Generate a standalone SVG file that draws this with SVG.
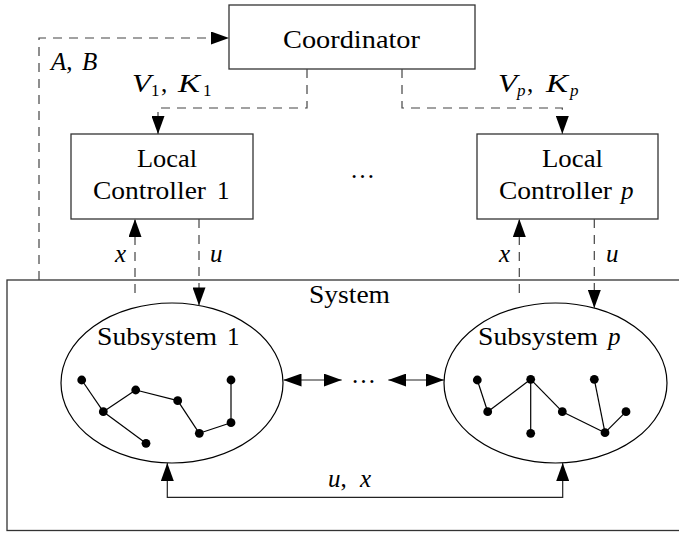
<svg xmlns="http://www.w3.org/2000/svg" width="679" height="534" viewBox="0 0 679 534">
<style>
text{font-family:"Liberation Serif","DejaVu Serif","Times New Roman",serif;font-size:25px;fill:#000}
.it{font-style:italic}
.sub{font-size:17px}
.box{fill:#fff;stroke:#333;stroke-width:1.3}
.ell{fill:#fff;stroke:#000;stroke-width:1.2}
.dash{fill:none;stroke:#444;stroke-width:1.2;stroke-dasharray:9 7}
.solid{fill:none;stroke:#222;stroke-width:1.2}
.edge{stroke:#000;stroke-width:1.2}
.dot{fill:#000}
</style>
<defs>
<marker id="ah" viewBox="0 0 18 13" refX="18" refY="6.5" markerWidth="18" markerHeight="13" markerUnits="userSpaceOnUse" orient="auto-start-reverse">
<path d="M0,0 L18,6.5 L0,13 Z" fill="#000"/>
</marker>
</defs>

<g id="system">
<rect x="7" y="280" width="690" height="250.5" fill="none" stroke="#333" stroke-width="1.3"/>
<text x="309" y="303" textLength="81" lengthAdjust="spacingAndGlyphs">System</text>
</g>

<g id="coordinator">
<rect class="box" x="229" y="5" width="246" height="64"/>
<text x="283" y="48" textLength="137" lengthAdjust="spacingAndGlyphs">Coordinator</text>
</g>

<g id="controller1">
<rect class="box" x="71" y="134" width="182" height="85"/>
<text x="137" y="167" textLength="60" lengthAdjust="spacingAndGlyphs">Local</text>
<text x="93" y="199" textLength="113" lengthAdjust="spacingAndGlyphs">Controller</text>
<text x="217" y="199">1</text>
</g>

<g id="controllerp">
<rect class="box" x="477" y="134" width="181" height="85"/>
<text x="542" y="167" textLength="61" lengthAdjust="spacingAndGlyphs">Local</text>
<text x="499" y="199" textLength="113" lengthAdjust="spacingAndGlyphs">Controller</text>
<text x="621" y="199" class="it">p</text>
</g>

<g id="controller-dots">
<text x="350" y="178" textLength="27" lengthAdjust="spacing">…</text>
</g>

<g id="subsystem1">
<ellipse class="ell" cx="172" cy="383" rx="111" ry="80"/>
<text x="97" y="345" textLength="120" lengthAdjust="spacingAndGlyphs">Subsystem</text>
<text x="227" y="345">1</text>
<g class="edge">
<line x1="81.7" y1="380" x2="103.3" y2="411.7"/>
<line x1="103.3" y1="411.7" x2="135.7" y2="390"/>
<line x1="135.7" y1="390" x2="177.7" y2="400.7"/>
<line x1="177.7" y1="400.7" x2="199.3" y2="433.3"/>
<line x1="199.3" y1="433.3" x2="231" y2="422.7"/>
<line x1="231" y1="422.7" x2="231" y2="380"/>
<line x1="103.3" y1="411.7" x2="146" y2="443.3"/>
</g>
<g class="dot">
<circle cx="81.7" cy="380" r="4.4"/>
<circle cx="103.3" cy="411.7" r="4.4"/>
<circle cx="135.7" cy="390" r="4.4"/>
<circle cx="177.7" cy="400.7" r="4.4"/>
<circle cx="199.3" cy="433.3" r="4.4"/>
<circle cx="231" cy="422.7" r="4.4"/>
<circle cx="231" cy="380" r="4.4"/>
<circle cx="146" cy="443.3" r="4.4"/>
</g>
</g>

<g id="subsystemp">
<ellipse class="ell" cx="555.5" cy="383" rx="111.5" ry="80"/>
<text x="478" y="345" textLength="120" lengthAdjust="spacingAndGlyphs">Subsystem</text>
<text x="608" y="345" class="it">p</text>
<g class="edge">
<line x1="477.3" y1="380" x2="487.7" y2="411.7"/>
<line x1="487.7" y1="411.7" x2="530.7" y2="379.3"/>
<line x1="530.7" y1="379.3" x2="530.7" y2="433.3"/>
<line x1="530.7" y1="379.3" x2="562.3" y2="411.7"/>
<line x1="562.3" y1="411.7" x2="605" y2="432.7"/>
<line x1="605" y1="432.7" x2="594.3" y2="379.3"/>
<line x1="605" y1="432.7" x2="626" y2="411.7"/>
</g>
<g class="dot">
<circle cx="477.3" cy="380" r="4.4"/>
<circle cx="487.7" cy="411.7" r="4.4"/>
<circle cx="530.7" cy="379.3" r="4.4"/>
<circle cx="530.7" cy="433.3" r="4.4"/>
<circle cx="562.3" cy="411.7" r="4.4"/>
<circle cx="605" cy="432.7" r="4.4"/>
<circle cx="594.3" cy="379.3" r="4.4"/>
<circle cx="626" cy="411.7" r="4.4"/>
</g>
</g>

<g id="connectors">
<path class="dash" d="M39,280 V38 H229" marker-end="url(#ah)"/>
<path class="dash" d="M307,69 V108 H158 V134" marker-end="url(#ah)"/>
<path class="dash" d="M402,69 V108 H562.3 V134" marker-end="url(#ah)"/>
<path class="dash" d="M135,293 V219" marker-end="url(#ah)"/>
<path class="dash" d="M199,219 V305.4" marker-end="url(#ah)"/>
<path class="dash" d="M519.3,293 V219" marker-end="url(#ah)"/>
<path class="dash" d="M594.3,219 V308" marker-end="url(#ah)"/>
<path class="solid" d="M283.5,380 H341.7" marker-start="url(#ah)" marker-end="url(#ah)"/>
<path class="solid" d="M388.3,380 H444" marker-start="url(#ah)" marker-end="url(#ah)"/>
<path class="solid" d="M167.3,463 V497.3 H562.7 V463" marker-start="url(#ah)" marker-end="url(#ah)"/>
<text x="351" y="383" textLength="26" lengthAdjust="spacing">…</text>
</g>

<g id="labels">
<text x="51" y="70"><tspan class="it">A</tspan><tspan>,</tspan><tspan x="82" class="it">B</tspan></text>
<text x="132" y="92"><tspan class="it" textLength="19" lengthAdjust="spacingAndGlyphs">V</tspan><tspan class="sub" x="151" y="96">1</tspan><tspan x="161" y="92">,</tspan><tspan x="178" class="it" textLength="22" lengthAdjust="spacingAndGlyphs">K</tspan><tspan class="sub" x="203" y="96">1</tspan></text>
<text x="498" y="92"><tspan class="it" textLength="19" lengthAdjust="spacingAndGlyphs">V</tspan><tspan class="sub it" x="517" y="96">p</tspan><tspan x="527" y="92">,</tspan><tspan x="546" class="it" textLength="22" lengthAdjust="spacingAndGlyphs">K</tspan><tspan class="sub it" x="570" y="96">p</tspan></text>
<text x="115" y="262" class="it">x</text>
<text x="210" y="262" class="it">u</text>
<text x="499" y="262" class="it">x</text>
<text x="606" y="262" class="it">u</text>
<text x="328" y="487"><tspan class="it">u</tspan><tspan>,</tspan><tspan x="360" class="it">x</tspan></text>
</g>
</svg>
